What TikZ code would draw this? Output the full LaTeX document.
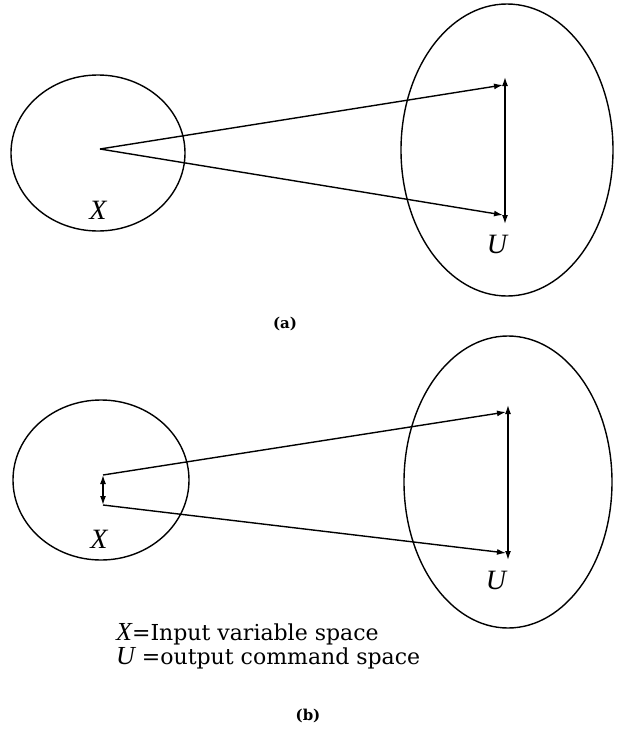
\documentclass[tikz,border=0pt]{standalone}
\usepackage{fontspec}
\setmainfont{Liberation Serif}
\newfontfamily\widefont{DejaVu Serif}
\usetikzlibrary{shapes.geometric,arrows.meta}
\begin{document}
\begin{tikzpicture}[x=1pt,y=-1pt,
  space/.style={draw,ellipse,line width=1.4pt,inner sep=0pt},
  conn/.style={line width=1.4pt,-{Latex[length=9pt,width=6pt]}},
  dbl/.style={line width=1.4pt,{Latex[length=9pt,width=6pt]}-{Latex[length=9pt,width=6pt]}},
  lbl/.style={font=\fontsize{28}{30}\selectfont\itshape},
  legend/.style={anchor=base west,font=\widefont\fontsize{22}{24}\selectfont,inner sep=0pt},
  captext/.style={font=\widefont\fontsize{15}{16}\selectfont\bfseries}]
\useasboundingbox (0,0) rectangle (619,752);
\fill[white] (0,0) rectangle (619,752);
% (a)
\node[space,minimum width=174pt,minimum height=156pt] (Xa) at (98,153) {};
\node[space,minimum width=212pt,minimum height=292pt] (Ua) at (507,150) {};
\coordinate (pa) at (100,149);
\coordinate (ua1) at (503,85);
\coordinate (ua2) at (503,215);
\coordinate (va1) at (505,77);
\coordinate (va2) at (505,224);
\draw[conn] (pa) -- (ua1);
\draw[conn] (pa) -- (ua2);
\draw[dbl] (va2) -- (va1);
\node[lbl] (Xla) at (98,210) {X};
\node[lbl] (Ula) at (497,244) {U};
\node[captext] (capa) at (285,324) {(a)};
% (b)
\node[space,minimum width=176pt,minimum height=160pt] (Xb) at (101,480) {};
\node[space,minimum width=208pt,minimum height=292pt] (Ub) at (508,482) {};
\coordinate (pb1) at (103,475);
\coordinate (pb2) at (103,505);
\coordinate (ub1) at (506,412);
\coordinate (ub2) at (506,553);
\coordinate (vb1) at (508,405);
\coordinate (vb2) at (508,560);
\draw[dbl] (pb1) -- (pb2);
\draw[conn] (pb1) -- (ub1);
\draw[conn] (pb2) -- (ub2);
\draw[dbl] (vb2) -- (vb1);
\node[lbl] (Xlb) at (99,539) {X};
\node[lbl] (Ulb) at (496,580) {U};
\node[legend] (t1) at (116,640) {{\rmfamily\fontsize{26}{24}\selectfont\itshape X}=Input variable space};
\node[legend] (t2) at (116,664) {{\rmfamily\fontsize{26}{24}\selectfont\itshape U} =output command space};
\node[captext] (capb) at (308,716) {(b)};
\end{tikzpicture}
\end{document}
